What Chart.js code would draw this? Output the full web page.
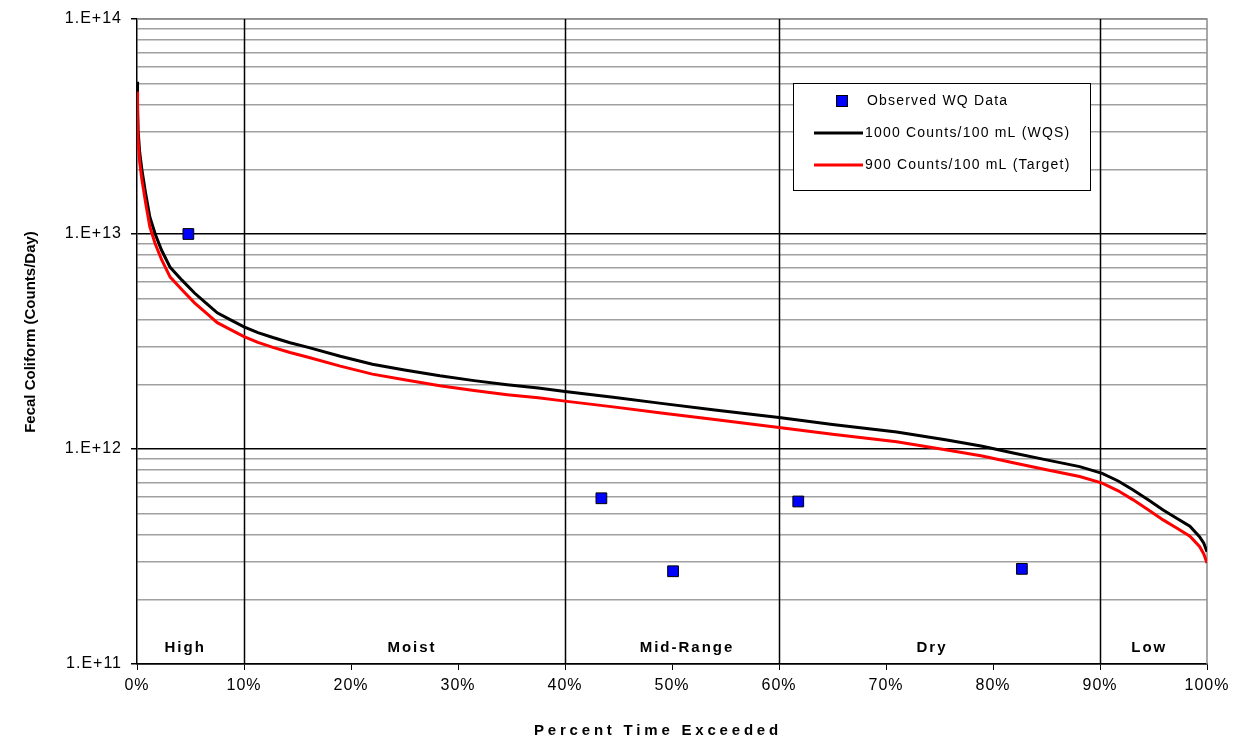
<!DOCTYPE html>
<html>
<head>
<meta charset="utf-8">
<title>Load Duration Curve</title>
<script src="https://cdn.jsdelivr.net/npm/chart.js@4/dist/chart.umd.min.js"></script>
<style>
  html, body { margin: 0; padding: 0; background: #fff; }
  #wrap { width: 1238px; height: 742px; }
</style>
</head>
<body>
<div id="wrap"><canvas id="ldc" width="1238" height="742"></canvas></div>
<script>
// flow exceedance (%) for the two load curves
const exceedPct = [0, 0.05, 0.1, 0.25, 0.45, 0.8, 1.2, 1.7, 2.3, 3.1, 4.2, 5.4, 6.4, 7.5, 8.7,
  10, 11.3, 12.7, 14.3, 16, 19, 22, 25, 28.3, 31.5, 34.6, 37.5, 40, 44.5, 49, 54, 60, 65,
  71, 75.7, 79, 82, 85, 88.1, 90.2, 91.7, 93.1, 94.5, 95.9, 97.2, 98.4, 99.3, 99.7, 100];

// 1000 counts/100 mL (WQS)
const wqsLoad = [5.1e13, 4.0e13, 3.05e13, 2.4e13, 2.0e13, 1.55e13, 1.2e13, 1.0e13, 8.4e12, 7.0e12,
  6.1e12, 5.3e12, 4.8e12, 4.3e12, 4.0e12, 3.7e12, 3.48e12, 3.3e12, 3.12e12, 2.97e12, 2.7e12,
  2.48e12, 2.33e12, 2.19e12, 2.08e12, 1.99e12, 1.92e12, 1.85e12, 1.74e12, 1.63e12, 1.52e12,
  1.40e12, 1.30e12, 1.20e12, 1.10e12, 1.03e12, 9.55e11, 8.9e11, 8.28e11, 7.71e11, 7.1e11,
  6.45e11, 5.8e11, 5.2e11, 4.75e11, 4.37e11, 3.91e11, 3.65e11, 3.33e11];

// 900 counts/100 mL (target)
const targetLoad = [4.6e13, 3.6e13, 2.75e13, 2.16e13, 1.8e13, 1.4e13, 1.08e13, 9.0e12, 7.6e12, 6.3e12,
  5.5e12, 4.77e12, 4.32e12, 3.87e12, 3.6e12, 3.33e12, 3.13e12, 2.97e12, 2.81e12, 2.67e12, 2.43e12,
  2.23e12, 2.1e12, 1.97e12, 1.87e12, 1.79e12, 1.73e12, 1.67e12, 1.57e12, 1.47e12, 1.37e12,
  1.26e12, 1.17e12, 1.08e12, 9.9e11, 9.27e11, 8.6e11, 8.0e11, 7.45e11, 6.94e11, 6.39e11,
  5.8e11, 5.22e11, 4.68e11, 4.28e11, 3.93e11, 3.52e11, 3.25e11, 2.95e11];

// observed water quality samples
const obsPct = [4.8, 43.4, 50.1, 61.8, 82.7];
const obsLoad = [1.0e13, 5.9e11, 2.7e11, 5.7e11, 2.77e11];

// flow zones
const zoneNames = ['High', 'Moist', 'Mid-Range', 'Dry', 'Low'];
const zoneLabelPct = [4.5, 25.7, 51.4, 74.3, 94.6];
const zoneBreaks = [10, 40, 60, 90];

// axis ticks
const xTicks = [0, 10, 20, 30, 40, 50, 60, 70, 80, 90, 100];
const yDecades = [1e11, 1e12, 1e13, 1e14];
const yMinorSteps = [2, 3, 4, 5, 6, 7, 8, 9];

const legendNames = ['Observed WQ Data', '1000 Counts/100 mL (WQS)', '900 Counts/100 mL (Target)'];

const FONT = '"Liberation Sans", Arial, sans-serif';

function toPoints(xs, ys) {
  return xs.map((x, i) => ({ x: x, y: ys[i] }));
}

function isDecade(v) {
  return yDecades.some(d => Math.abs(v - d) / d < 1e-6);
}

function yTickList() {
  const out = [];
  for (let i = 0; i < yDecades.length; i++) {
    out.push({ value: yDecades[i], major: true });
    if (i < yDecades.length - 1) {
      yMinorSteps.forEach(m => out.push({ value: yDecades[i] * m, major: false }));
    }
  }
  return out;
}

function spacedText(ctx, text, x, y, spacing) {
  ctx.letterSpacing = spacing + 'px';
  ctx.fillText(text, x, y);
  ctx.letterSpacing = '0px';
}

const decorations = {
  id: 'decorations',
  beforeUpdate(chart) {
    // wider tracking for the tick labels
    chart.ctx.letterSpacing = '1px';
  },
  beforeDraw(chart) {
    chart.ctx.letterSpacing = '1px';
  },
  beforeDatasetsDraw(chart) {
    const { ctx, chartArea: a, scales } = chart;
    ctx.letterSpacing = '0px';
    ctx.save();
    // plot frame, top and right edges
    ctx.strokeStyle = '#8c8c8c';
    ctx.lineWidth = 1.5;
    ctx.beginPath();
    ctx.moveTo(a.left, a.top);
    ctx.lineTo(a.right, a.top);
    ctx.lineTo(a.right, a.bottom);
    ctx.stroke();
    // flow zone dividers
    ctx.strokeStyle = '#000';
    ctx.lineWidth = 1.5;
    zoneBreaks.forEach(p => {
      const x = Math.round(scales.x.getPixelForValue(p)) + 0.5;
      ctx.beginPath();
      ctx.moveTo(x, a.top);
      ctx.lineTo(x, a.bottom);
      ctx.stroke();
    });
    ctx.restore();
  },
  afterDraw(chart) {
    const { ctx, chartArea: a, scales } = chart;
    ctx.save();
    ctx.fillStyle = '#000';

    // zone names along the bottom
    ctx.font = 'bold 15px ' + FONT;
    ctx.textAlign = 'center';
    ctx.textBaseline = 'middle';
    zoneNames.forEach((name, i) => {
      spacedText(ctx, name, scales.x.getPixelForValue(zoneLabelPct[i]), a.bottom - 16, 2);
    });

    // axis titles
    ctx.font = 'bold 15px ' + FONT;
    spacedText(ctx, 'Percent Time Exceeded', 658, 731, 3.8);
    ctx.save();
    ctx.translate(31, 332);
    ctx.rotate(-Math.PI / 2);
    ctx.font = 'bold 15px ' + FONT;
    ctx.fillText('Fecal Coliform (Counts/Day)', 0, 0);
    ctx.restore();

    // legend box
    const bx = 793.5, by = 83.5, bw = 297, bh = 107;
    ctx.fillStyle = '#fff';
    ctx.fillRect(bx, by, bw, bh);
    ctx.strokeStyle = '#000';
    ctx.lineWidth = 1;
    ctx.strokeRect(bx, by, bw, bh);

    const sets = chart.data.datasets;
    const rows = [101, 133, 165];
    ctx.font = '14px ' + FONT;
    ctx.textAlign = 'left';
    ctx.textBaseline = 'middle';
    // marker entry
    ctx.fillStyle = sets[0].backgroundColor;
    ctx.strokeStyle = sets[0].borderColor;
    ctx.fillRect(836.5, rows[0] - 5.5, 11, 11);
    ctx.strokeRect(836.5, rows[0] - 5.5, 11, 11);
    // line entries
    [1, 2].forEach(i => {
      ctx.strokeStyle = sets[i].borderColor;
      ctx.lineWidth = 3;
      ctx.beginPath();
      ctx.moveTo(814, rows[i]);
      ctx.lineTo(863, rows[i]);
      ctx.stroke();
    });
    ctx.fillStyle = '#000';
    spacedText(ctx, legendNames[0], 867, rows[0], 1.2);
    spacedText(ctx, legendNames[1], 865, rows[1], 1.2);
    spacedText(ctx, legendNames[2], 865, rows[2], 1.2);
    ctx.restore();
  }
};

new Chart(document.getElementById('ldc'), {
  type: 'scatter',
  data: {
    datasets: [
      {
        label: legendNames[0],
        data: toPoints(obsPct, obsLoad),
        backgroundColor: '#0000ff',
        borderColor: '#000',
        borderWidth: 1,
        pointStyle: 'rect',
        pointRadius: 7.6,
        order: 0
      },
      {
        label: legendNames[1],
        data: toPoints(exceedPct, wqsLoad),
        showLine: true,
        borderColor: '#000',
        borderWidth: 3,
        pointRadius: 0,
        tension: 0,
        order: 2
      },
      {
        label: legendNames[2],
        data: toPoints(exceedPct, targetLoad),
        showLine: true,
        borderColor: '#ff0000',
        borderWidth: 3,
        pointRadius: 0,
        tension: 0,
        order: 1
      }
    ]
  },
  options: {
    responsive: false,
    animation: false,
    layout: { padding: { left: 0, top: 19, right: 31, bottom: 0 } },
    plugins: {
      legend: { display: false },
      tooltip: { enabled: false }
    },
    scales: {
      x: {
        type: 'linear',
        min: 0,
        max: 100,
        afterBuildTicks(scale) {
          scale.ticks = xTicks.map(v => ({ value: v }));
        },
        afterFit(scale) { scale.height = 78; },
        grid: { drawOnChartArea: false, tickLength: 6, color: '#000', lineWidth: 1 },
        border: { color: '#000', width: 1.5 },
        ticks: {
          color: '#000',
          padding: 6,
          maxRotation: 0,
          font: { family: FONT, size: 16 },
          callback: v => v + '%'
        }
      },
      y: {
        type: 'logarithmic',
        min: 1e11,
        max: 1e14,
        afterBuildTicks(scale) {
          scale.ticks = yTickList();
        },
        afterFit(scale) { scale.width = 137; },
        grid: {
          tickLength: 6,
          lineWidth: 1.5,
          color: ctx => {
            const v = ctx.tick.value;
            if (v >= 1e14) return '#8c8c8c';
            return isDecade(v) ? '#000' : '#a0a0a0';
          },
          tickColor: ctx => isDecade(ctx.tick.value) ? '#000' : 'rgba(0,0,0,0)'
        },
        border: { color: '#000', width: 1.5 },
        ticks: {
          color: '#000',
          padding: 9,
          autoSkip: false,
          font: { family: FONT, size: 16 },
          callback: v => isDecade(v) ? '1.E+' + Math.round(Math.log10(v)) : ''
        }
      }
    }
  },
  plugins: [decorations]
});
</script>
</body>
</html>
